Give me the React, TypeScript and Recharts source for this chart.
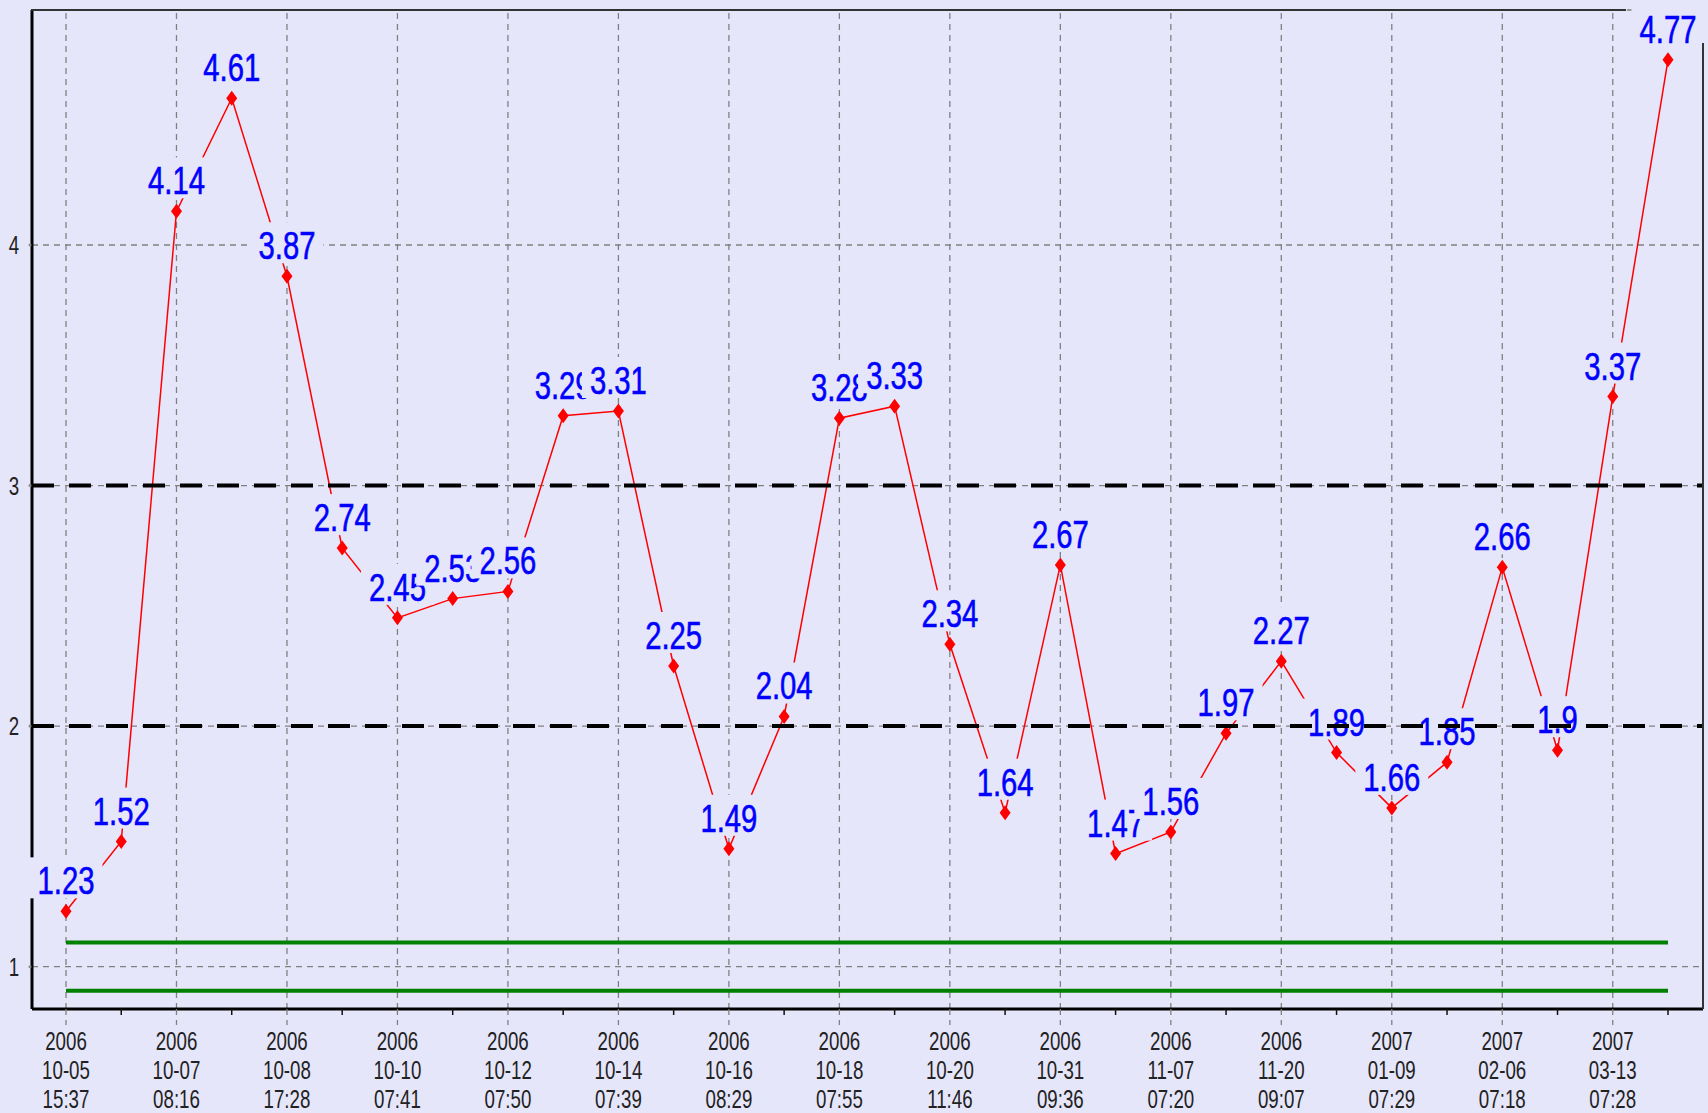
import React from "react";
import {
  LineChart,
  Line,
  XAxis,
  YAxis,
  CartesianGrid,
  ReferenceLine,
  LabelList,
} from "recharts";

// measured values, one per sample
const values = [
  1.23, 1.52, 4.14, 4.61, 3.87, 2.74, 2.45, 2.53, 2.56, 3.29, 3.31, 2.25, 1.49, 2.04, 3.28,
  3.33, 2.34, 1.64, 2.67, 1.47, 1.56, 1.97, 2.27, 1.89, 1.66, 1.85, 2.66, 1.9, 3.37, 4.77,
];

// tick labels for every second sample
const tickYears = [
  "2006", "2006", "2006", "2006", "2006", "2006", "2006", "2006",
  "2006", "2006", "2006", "2006", "2007", "2007", "2007",
];
const tickDates = [
  "10-05", "10-07", "10-08", "10-10", "10-12", "10-14", "10-16", "10-18",
  "10-20", "10-31", "11-07", "11-20", "01-09", "02-06", "03-13",
];
const tickTimes = [
  "15:37", "08:16", "17:28", "07:41", "07:50", "07:39", "08:29", "07:55",
  "11:46", "09:36", "07:20", "09:07", "07:29", "07:18", "07:28",
];

const yTicks = [1, 2, 3, 4];
const controlLimits = [2, 3];
const specLimits = [1.1, 0.9];

const BG = "#e6e6fa";
const FONT = "'Liberation Sans', Arial, sans-serif";

const data = values.map((v, i) => ({ i, v }));

function XTick(props: any) {
  const { x, y, payload } = props;
  const i = payload.value as number;
  const major = i % 2 === 0;
  const k = i / 2;
  return (
    <g>
      {major ? (
        <line x1={x} x2={x} y1={y} y2={y + 16} stroke="#808080" strokeWidth={1.3} strokeDasharray="6 5" />
      ) : (
        <line x1={x} x2={x} y1={y} y2={y + 6} stroke="#111" strokeWidth={1.5} />
      )}
      {major && (
        <text
          transform={`translate(${x},${y}) scale(0.72,1)`}
          textAnchor="middle"
          fontSize={26}
          fill="#222"
          fontFamily={FONT}
        >
          <tspan x={0} y={41}>{tickYears[k]}</tspan>
          <tspan x={0} y={70}>{tickDates[k]}</tspan>
          <tspan x={0} y={99}>{tickTimes[k]}</tspan>
        </text>
      )}
    </g>
  );
}

function YTick(props: any) {
  const { x, y, payload } = props;
  return (
    <g>
      <circle cx={x - 2} cy={y} r={1.5} fill="#888" />
      <text
        transform={`translate(${x - 18},${y + 9}) scale(0.72,1)`}
        textAnchor="middle"
        fontSize={26}
        fill="#222"
        fontFamily={FONT}
      >
        {payload.value}
      </text>
    </g>
  );
}

function Diamond(props: any) {
  const { cx, cy, index } = props;
  if (cx == null || cy == null) return <g key={index} />;
  return (
    <polygon
      key={index}
      points={`${cx},${cy - 7.5} ${cx + 5.5},${cy} ${cx},${cy + 7.5} ${cx - 5.5},${cy}`}
      fill="#ff0000"
    />
  );
}

function PointLabel(props: any) {
  const { x, y, value } = props;
  if (x == null || y == null) return null;
  const text = String(value);
  const digits = text.replace(".", "").length;
  const w = digits * 16.3 + (text.includes(".") ? 8.1 : 0) + 16;
  return (
    <g>
      <rect x={x - w / 2} y={y - 54} width={w} height={41} fill={BG} />
      <text
        transform={`translate(${x},${y - 17}) scale(0.75,1)`}
        textAnchor="middle"
        fontSize={39}
        fill="#0000ff"
        stroke="#0000ff"
        strokeWidth={0.6}
        fontFamily={FONT}
      >
        {text}
      </text>
    </g>
  );
}

export default function App() {
  return (
    <div style={{ position: "relative", width: 1708, height: 1113, background: BG, overflow: "hidden" }}>
      <style>{`body{margin:0;background:${BG};}`}</style>
      <LineChart
        width={1708}
        height={1113}
        data={data}
        margin={{ top: 10, right: 5, bottom: 4, left: 0 }}
      >
        <CartesianGrid vertical={false} stroke="#808080" strokeWidth={1.3} strokeDasharray="6 5" />
        {data
          .filter((d) => d.i % 2 === 0)
          .map((d) => (
            <ReferenceLine
              key={"vx" + d.i}
              x={d.i}
              stroke="#808080"
              strokeWidth={1.3}
              strokeDasharray="6 5"
              zIndex={-50}
            />
          ))}
        {specLimits.map((v) => (
          <ReferenceLine
            key={"spec" + v}
            segment={[
              { x: data[0].i, y: v },
              { x: data[data.length - 1].i, y: v },
            ]}
            stroke="#008000"
            strokeWidth={4}
          />
        ))}
        <XAxis
          dataKey="i"
          type="category"
          interval={0}
          padding={{ left: 34, right: 35 }}
          height={100}
          tickSize={0}
          tickMargin={0}
          tickLine={false}
          axisLine={{ stroke: "#000", strokeWidth: 3 }}
          tick={<XTick />}
        />
        <YAxis
          type="number"
          domain={[0.824, 4.977]}
          ticks={yTicks}
          allowDataOverflow
          width={32}
          tickSize={0}
          tickMargin={0}
          tickLine={false}
          axisLine={{ stroke: "#000", strokeWidth: 3 }}
          tick={<YTick />}
        />
        <Line
          type="linear"
          dataKey="v"
          stroke="#ff0000"
          strokeWidth={1.5}
          dot={(p: any) => <Diamond {...p} key={p.index} />}
          activeDot={false}
          isAnimationActive={false}
        >
          <LabelList dataKey="v" content={<PointLabel />} />
        </Line>
        {controlLimits.map((v) => (
          <ReferenceLine
            key={"ctl" + v}
            y={v}
            stroke="#000"
            strokeWidth={4}
            strokeDasharray="22 15"
            zIndex={2500}
          />
        ))}
      </LineChart>
      <div style={{ position: "absolute", left: 31, top: 9, width: 1595, height: 2, background: "#333" }} />
      <div style={{ position: "absolute", left: 1702, top: 43, width: 2, height: 966, background: "#333" }} />
    </div>
  );
}
